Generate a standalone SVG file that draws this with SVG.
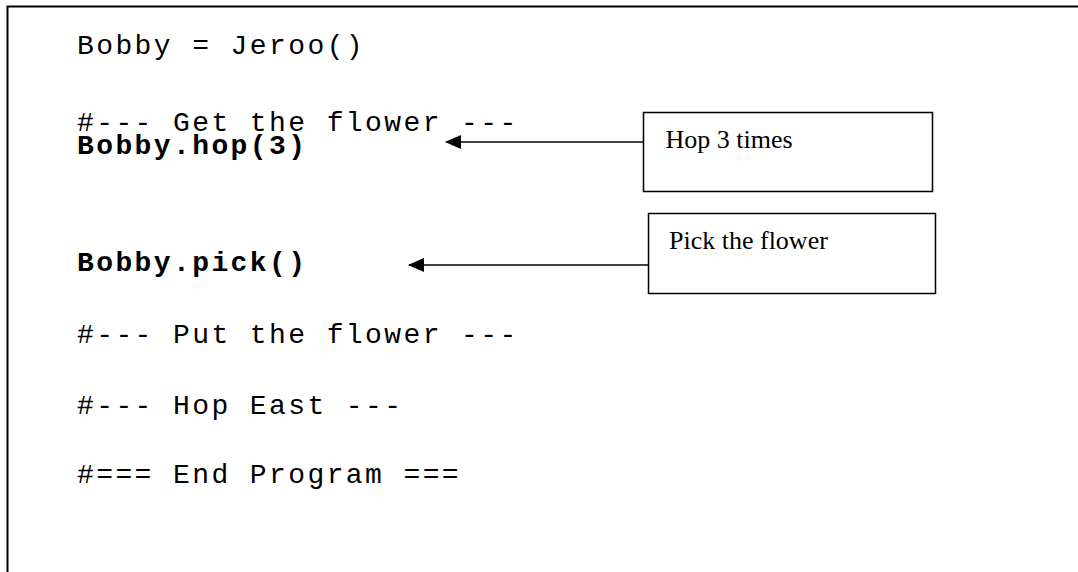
<svg xmlns="http://www.w3.org/2000/svg" width="1078" height="572" viewBox="0 0 1078 572">
<style>
.code{font-family:"Liberation Mono","Courier New",monospace;font-size:28px;letter-spacing:2.4px;fill:#000}
.b{font-weight:bold}
.note{font-family:"Liberation Serif","Times New Roman",serif;font-size:26px;fill:#000}
.box{fill:#fff;stroke:#000;stroke-width:1.5}
.conn{stroke:#000;stroke-width:1.5;fill:none}
</style>
<defs>
<marker id="ah" markerWidth="16" markerHeight="14" refX="15" refY="7" orient="auto" markerUnits="userSpaceOnUse">
<path d="M0,0 L16,7 L0,14 Z" fill="#000"/>
</marker>
</defs>
<rect x="0" y="0" width="1078" height="572" fill="#fff"/>
<g id="frame">
<path d="M7.5,572 L7.5,6.5 L1078,6.5" fill="none" stroke="#000" stroke-width="2"/>
</g>
<g id="code">
<text class="code" x="77" y="54">Bobby = Jeroo()</text>
<text class="code" x="77" y="131">#--- Get the flower ---</text>
<text class="code b" x="77" y="154">Bobby.hop(3)</text>
<text class="code b" x="77" y="271">Bobby.pick()</text>
<text class="code" x="77" y="343">#--- Put the flower ---</text>
<text class="code" x="77" y="414">#--- Hop East ---</text>
<text class="code" x="77" y="483">#=== End Program ===</text>
</g>
<g id="note1">
<rect class="box" x="643.5" y="112.5" width="289" height="79"/>
<text class="note" x="665.5" y="148">Hop 3 times</text>
</g>
<g id="note2">
<rect class="box" x="648.5" y="213.5" width="287" height="80"/>
<text class="note" x="669" y="249">Pick the flower</text>
</g>
<g id="connectors">
<line class="conn" x1="643" y1="142" x2="446" y2="142" marker-end="url(#ah)"/>
<line class="conn" x1="648" y1="265" x2="409" y2="265" marker-end="url(#ah)"/>
</g>
</svg>
